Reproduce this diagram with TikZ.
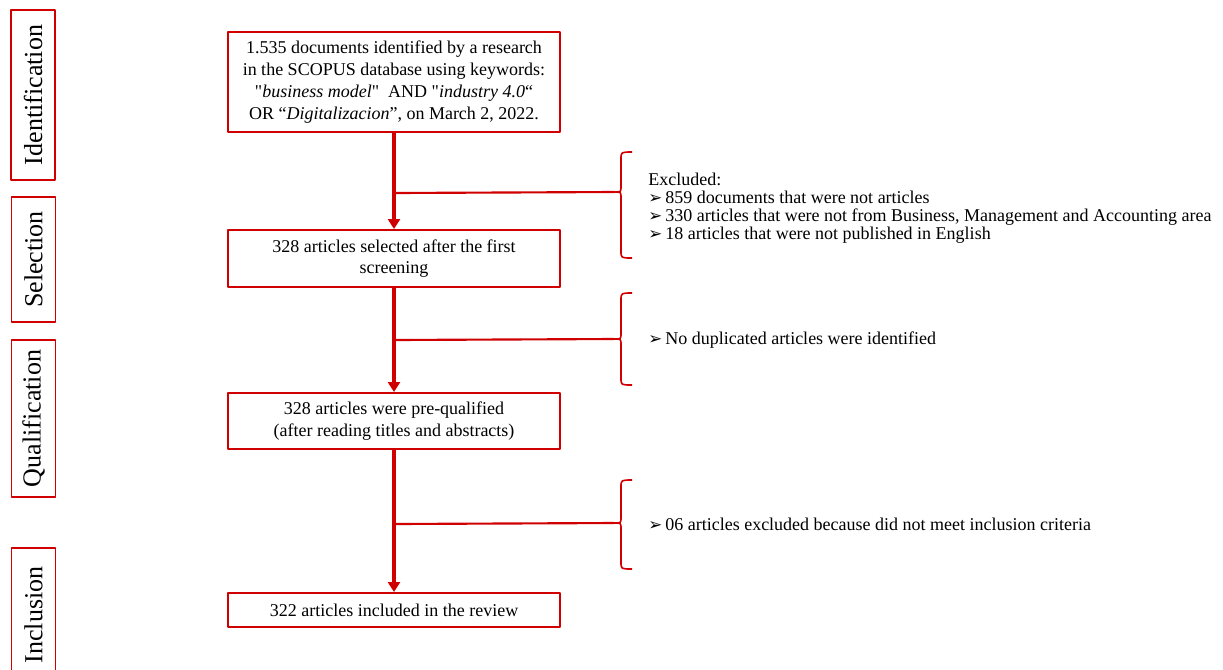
\documentclass[tikz,border=0pt]{standalone}
\usepackage{fontspec}
\setmainfont{Liberation Serif}
\newfontfamily\dingfont{DejaVu Sans}
\usetikzlibrary{arrows.meta}

\definecolor{prismared}{RGB}{208,0,0}
\newcommand{\bul}{\makebox[12.75pt][l]{\dingfont\fontsize{12.5}{12}\selectfont ➢}}
% brace: top, tip, bottom
\newcommand{\exclbrace}[3]{%
  \draw[brace] (632,#1) .. controls (621,#1) .. (621,#1+7) -- (621,#2-5)
    .. controls (621,#2) .. (614,#2) .. controls (621,#2) .. (621,#2+5)
    -- (621,#3-7) .. controls (621,#3) .. (632,#3);}

\begin{document}
\begin{tikzpicture}[x=0.75pt,y=-0.75pt,line join=round]
\tikzset{
  stagebox/.style={draw=prismared,line width=1.5pt,minimum width=249pt,inner sep=0pt,
    align=center,font=\fontsize{13.5}{16.3}\selectfont},
  phasebox/.style={draw=prismared,line width=1.2pt,rotate=90,minimum height=33pt,
    inner sep=0pt,font=\fontsize{19.5}{23}\selectfont},
  flow/.style={prismared,line width=2.6pt,-{Triangle[width=9pt,length=7.5pt]}},
  branch/.style={prismared,line width=1.6pt},
  brace/.style={prismared,line width=1.2pt},
  note/.style={anchor=west,align=left,inner sep=0pt,font=\fontsize{13.5}{13.5}\selectfont}
}
\useasboundingbox (0,0) rectangle (1223,669);

% phases
\node[phasebox,minimum width=127.5pt] (pident) at (33,95) {Identification};
\node[phasebox,minimum width=93.75pt] (psel) at (33.5,259.5) {Selection};
\node[phasebox,minimum width=117.75pt] (pqual) at (33.5,418.5) {Qualification};
\node[phasebox,minimum width=100.5pt] (pincl) at (33.5,615) {Inclusion};

% stages
\node[stagebox,minimum height=75pt] (ident) at (394,82)
  {1.535 documents identified by a research\\
   in the SCOPUS database using keywords:\\
   \textquotedbl\textit{business model}\textquotedbl\ \ AND \textquotedbl\textit{industry 4.0}“\\
   OR “\textit{Digitalizacion}”, on March 2, 2022.};
\node[stagebox,minimum height=42.75pt] (sel) at (394,258.5)
  {328 articles selected after the first\\screening};
\node[stagebox,minimum height=42pt] (qual) at (394,421)
  {328 articles were pre-qualified\\(after reading titles and abstracts)};
\node[stagebox,minimum height=25.5pt] (incl) at (394,610)
  {322 articles included in the review};

\draw[flow] (ident) -- (sel);
\draw[flow] (sel) -- (qual);
\draw[flow] (qual) -- (incl);

% exclusions
\path (ident.south) ++(0,60) coordinate (j1);
\path (sel.south) ++(0,52) coordinate (j2);
\path (qual.south) ++(0,74) coordinate (j3);
\coordinate (b1) at (614,192);
\coordinate (b2) at (614,339);
\coordinate (b3) at (614,523);
\draw[branch] (j1) -- (b1);
\draw[branch] (j2) -- (b2);
\draw[branch] (j3) -- (b3);
\exclbrace{152}{192}{258}
\exclbrace{293}{339}{385}
\exclbrace{480}{523}{569}

\node[note] (ex1) at (648,208) {Excluded:\\
  \bul 859 documents that were not articles\\
  \bul 330 articles that were not from Business, Management and Accounting area\\
  \bul 18 articles that were not published in English};
\node[note] (ex2) at (648,340) {\bul No duplicated articles were identified};
\node[note] (ex3) at (648,524) {\bul 06 articles excluded because did not meet inclusion criteria};
\end{tikzpicture}
\end{document}
